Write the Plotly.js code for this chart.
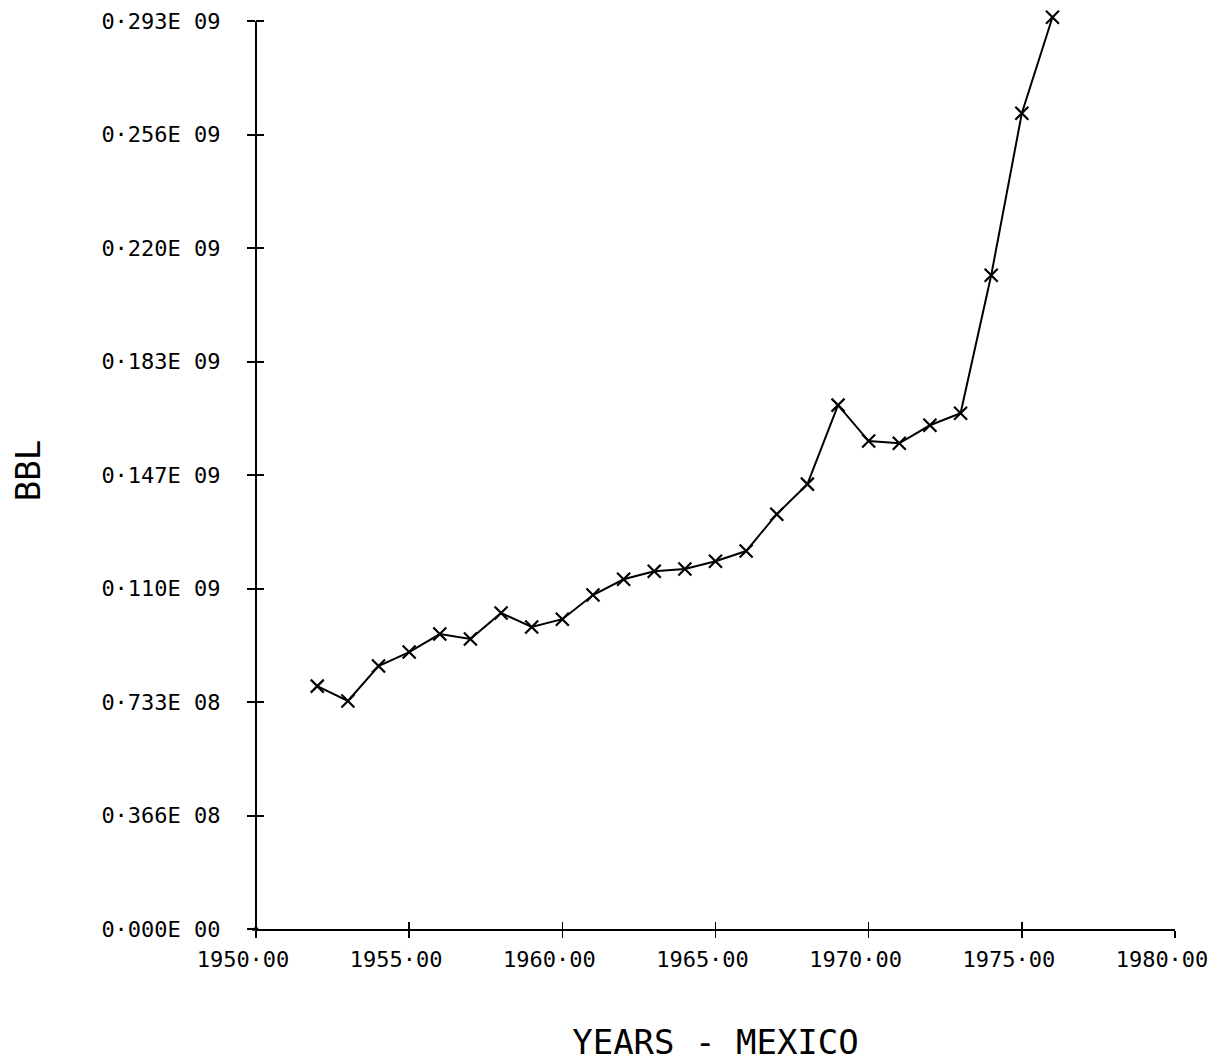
<!DOCTYPE html>
<html>
<head>
<meta charset="utf-8">
<script src="https://cdn.plot.ly/plotly-3.0.1.min.js"></script>
<style>
  html, body { margin: 0; padding: 0; background: #fff; }
  #chart { width: 1223px; height: 1062px; }
</style>
</head>
<body>
<div id="chart"></div>
<script>
// Data (barrels, Mexico)
const years = [1952, 1953, 1954, 1955, 1956, 1957, 1958, 1959, 1960, 1961, 1962, 1963,
               1964, 1965, 1966, 1967, 1968, 1969, 1970, 1971, 1972, 1973, 1974, 1975, 1976];
const bbl = [78.4e6, 73.6e6, 84.9e6, 89.4e6, 95.2e6, 93.6e6, 102.0e6, 97.5e6, 100.0e6, 107.8e6,
             112.9e6, 115.5e6, 116.2e6, 118.7e6, 122.0e6, 133.9e6, 143.6e6, 169.1e6, 157.5e6,
             156.8e6, 162.6e6, 166.5e6, 211.0e6, 263.3e6, 294.3e6];
// pen mark left at the origin of the plot
const originX = [1950];
const originY = [0];

const xTickVals = [1950, 1955, 1960, 1965, 1970, 1975, 1980];
const xTickText = ["1950·00", "1955·00", "1960·00", "1965·00", "1970·00", "1975·00", "1980·00"];
const yTickVals = [0, 36.625e6, 73.25e6, 109.875e6, 146.5e6, 183.125e6, 219.75e6, 256.375e6, 293e6];
const yTickText = ["0·000E 00", "0·366E 08", "0·733E 08", "0·110E 09", "0·147E 09",
                   "0·183E 09", "0·220E 09", "0·256E 09", "0·293E 09"];
const xRange = [1950, 1980];
const yAxisTop = 293e6;          // where the drawn y axis ends
const yRange = [0, 296e6];       // a little headroom so the last point is not clipped

const FONT = "DejaVu Sans Mono, Liberation Mono, monospace";

const traces = [
  {
    x: years, y: bbl, type: 'scatter', mode: 'lines+markers',
    line: { color: '#000', width: 2 },
    marker: { symbol: 'x-thin-open', size: 13, color: '#000', line: { color: '#000', width: 2.2 } },
    cliponaxis: false, showlegend: false, hoverinfo: 'skip'
  },
  {
    x: originX, y: originY, type: 'scatter', mode: 'markers',
    marker: { symbol: 'triangle-up', size: 7, color: '#000' },
    cliponaxis: false, showlegend: false, hoverinfo: 'skip'
  },
  {
    x: [], y: [], xaxis: 'x2', yaxis: 'y2', type: 'scatter', mode: 'markers',
    showlegend: false, hoverinfo: 'skip'
  }
];

const layout = {
  width: 1223, height: 1062,
  paper_bgcolor: '#fff', plot_bgcolor: '#fff',
  margin: { l: 256, r: 48, t: 12, b: 133 },
  showlegend: false,
  font: { family: FONT, color: '#000', size: 22 },
  xaxis: {
    range: xRange, tickmode: 'array', tickvals: xTickVals, ticktext: xTickText,
    showgrid: false, zeroline: false, showline: true, linecolor: '#000', linewidth: 2,
    ticks: 'outside', ticklen: 7, tickwidth: 1.5, tickcolor: '#000',
    ticklabelshift: -13, ticklabelstandoff: 3,
    tickfont: { family: FONT, size: 22, color: '#000' },
    title: { text: 'YEARS - MEXICO', font: { family: FONT, size: 34, color: '#000' }, standoff: 62 },
    automargin: false
  },
  yaxis: {
    range: yRange, tickmode: 'array', tickvals: yTickVals, ticktext: yTickText,
    showgrid: false, zeroline: false, showline: false,
    ticks: 'outside', ticklen: 8, tickwidth: 2, tickcolor: '#000',
    ticklabelstandoff: 22,
    tickfont: { family: FONT, size: 22, color: '#000' },
    title: { text: 'BBL', font: { family: FONT, size: 34, color: '#000' }, standoff: 50 },
    automargin: false
  },
  xaxis2: {
    overlaying: 'x', anchor: 'y2', range: xRange, tickmode: 'array', tickvals: xTickVals,
    showticklabels: false, showgrid: false, zeroline: false, showline: false,
    ticks: 'inside', ticklen: 7, tickwidth: 1.5, tickcolor: '#000'
  },
  yaxis2: {
    overlaying: 'y', anchor: 'x2', side: 'left', range: yRange, tickmode: 'array', tickvals: yTickVals,
    showticklabels: false, showgrid: false, zeroline: false, showline: false,
    ticks: 'inside', ticklen: 8, tickwidth: 2, tickcolor: '#000'
  },
  shapes: [
    { type: 'line', xref: 'paper', yref: 'y', x0: 0, x1: 0, y0: yRange[0], y1: yAxisTop,
      line: { color: '#000', width: 2 }, layer: 'above' }
  ]
};

Plotly.newPlot('chart', traces, layout, { staticPlot: true, displayModeBar: false });
</script>
</body>
</html>
